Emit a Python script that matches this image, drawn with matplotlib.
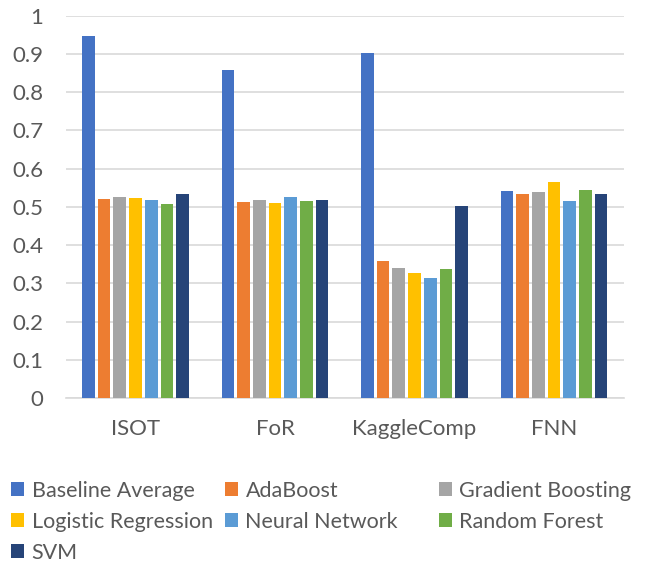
import matplotlib.pyplot as plt
import numpy as np

datasets = ['ISOT', 'FoR', 'KaggleComp', 'FNN']
models = ['Baseline Average', 'AdaBoost', 'Gradient Boosting', 'Logistic Regression',
          'Neural Network', 'Random Forest', 'SVM']
baseline = [0.948, 0.858, 0.902, 0.542]
adaboost = [0.520, 0.513, 0.359, 0.534]
grad_boost = [0.526, 0.518, 0.340, 0.538]
log_reg = [0.524, 0.510, 0.327, 0.566]
neural_net = [0.519, 0.526, 0.313, 0.515]
rand_forest = [0.507, 0.515, 0.338, 0.544]
svm = [0.534, 0.518, 0.502, 0.534]
series = [baseline, adaboost, grad_boost, log_reg, neural_net, rand_forest, svm]
colors = ['#4472C4', '#ED7D31', '#A5A5A5', '#FFC000', '#5B9BD5', '#70AD47', '#264478']

plt.rcParams['font.family'] = ['Lato', 'DejaVu Sans']
grey = '#595959'

fig = plt.figure(figsize=(6.45, 5.63), dpi=100)
ax = fig.add_axes([0.102, 0.293, 0.865, 0.679])

x = np.arange(len(datasets))
pitch = 0.1125
handles = []
for i, (vals, c) in enumerate(zip(series, colors)):
    off = (i - 3) * pitch
    h = ax.bar(x + off, vals, width=0.091, color=c, zorder=3, label=models[i])
    handles.append(h)

ax.set_xlim(-0.5, 3.5)
ax.set_ylim(0, 1)
ax.set_yticks(np.arange(0, 1.01, 0.1))
ax.set_yticklabels(['0'] + [f'{v:.1f}' for v in np.arange(0.1, 0.95, 0.1)] + ['1'])
ax.yaxis.grid(True, color='#D9D9D9', linewidth=1.2, zorder=0)
ax.set_xticks(x)
ax.set_xticklabels(datasets)
ax.tick_params(axis='both', length=0, labelsize=16, colors=grey)
ax.tick_params(axis='x', pad=15)
ax.tick_params(axis='y', pad=16)
for s in ['top', 'right', 'left']:
    ax.spines[s].set_visible(False)
ax.spines['bottom'].set_color('#D9D9D9')
ax.spines['bottom'].set_linewidth(1.2)

# legend laid out row by row, like the original
cols = [[0, 3, 6], [1, 4], [2, 5]]
xs = [0.004, 0.3355, 0.667]
for col, xpos in zip(cols, xs):
    leg = fig.legend([handles[k] for k in col], [models[k] for k in col],
                     loc='upper left', bbox_to_anchor=(xpos, 0.1616),
                     frameon=False, fontsize=15.5, handlelength=0.6, handleheight=0.6,
                     handletextpad=0.35, labelspacing=0.51, borderaxespad=0)
    for t in leg.get_texts():
        t.set_color(grey)

fig.savefig('out.png', dpi=100)
